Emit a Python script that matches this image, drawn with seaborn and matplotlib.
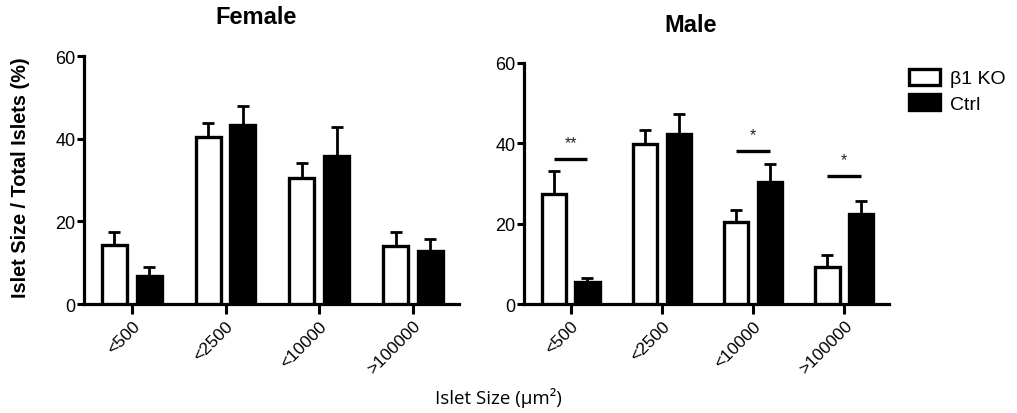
import numpy as np
import pandas as pd
import matplotlib
matplotlib.use("Agg")
import matplotlib.pyplot as plt
import seaborn as sns

sns.set_theme(style="ticks")
plt.rcParams["font.family"] = ["Liberation Sans", "DejaVu Sans"]
plt.rcParams["text.color"] = "black"
plt.rcParams["axes.labelcolor"] = "black"
plt.rcParams["xtick.color"] = "black"
plt.rcParams["ytick.color"] = "black"

# Islet size bins (µm²) and genotypes
size_bins = ["<500", "<2500", "<10000", ">100000"]
genotypes = ["β1 KO", "Ctrl"]

# Percent of total islets in each size bin (mean) and SEM
female_ko = [14.3, 40.5, 30.4, 14.1]
female_ko_sem = [3.2, 3.4, 3.7, 3.4]
female_ctrl = [6.7, 43.4, 35.9, 12.9]
female_ctrl_sem = [2.3, 4.4, 6.9, 2.8]

male_ko = [27.4, 39.8, 20.5, 9.3]
male_ko_sem = [5.8, 3.5, 3.0, 2.9]
male_ctrl = [5.4, 42.3, 30.4, 22.3]
male_ctrl_sem = [1.0, 5.1, 4.5, 3.3]

# Significance marks for the male panel: (bin index, bracket height, label)
male_sig_bins = [0, 2, 3]
male_sig_heights = [36.0, 38.1, 31.9]
male_sig_labels = ["**", "*", "*"]


def make_frame(ko, ctrl):
    return pd.DataFrame({
        "size": size_bins * 2,
        "genotype": [genotypes[0]] * 4 + [genotypes[1]] * 4,
        "pct": list(ko) + list(ctrl),
    })


palette = {"β1 KO": "white", "Ctrl": "black"}
W, H = 1017, 414
fig = plt.figure(figsize=(W / 100, H / 100), dpi=100)

ax_f = fig.add_axes([84 / W, 1 - 305 / H, (459 - 84) / W, (305 - 57) / H])
ax_m = fig.add_axes([524 / W, 1 - 305 / H, (889 - 524) / W, (305 - 64) / H])

panels = [
    (ax_f, female_ko, female_ko_sem, female_ctrl, female_ctrl_sem, "Female"),
    (ax_m, male_ko, male_ko_sem, male_ctrl, male_ctrl_sem, "Male"),
]

for ax, ko, ko_sem, ctrl, ctrl_sem, name in panels:
    df = make_frame(ko, ctrl)
    sns.barplot(data=df, x="size", y="pct", hue="genotype", order=size_bins,
                hue_order=genotypes, palette=palette, edgecolor="black",
                linewidth=2.4, width=0.74, gap=0.28, errorbar=None, ax=ax,
                legend=(name == "Male"), zorder=3)
    # upper-only SEM whiskers placed at each bar's centre
    for container, sems in zip(ax.containers, [ko_sem, ctrl_sem]):
        for patch, s in zip(container.patches, sems):
            cx = patch.get_x() + patch.get_width() / 2
            top = patch.get_height()
            ax.errorbar(cx, top, yerr=[[0], [s]], fmt="none", ecolor="black",
                        elinewidth=2.0, capsize=4.5, capthick=2.0, zorder=2)
    ax.set_ylim(0, 60)
    ax.set_xlim(-0.51, 3.49)
    ax.set_yticks([0, 20, 40, 60])
    ax.set_xlabel("")
    ax.set_ylabel("")
    for side in ["top", "right"]:
        ax.spines[side].set_visible(False)
    for side in ["left", "bottom"]:
        ax.spines[side].set_linewidth(2.3)
        ax.spines[side].set_color("black")
    ax.tick_params(axis="y", length=5, width=2.2, labelsize=13, pad=1,
                   colors="black")
    ax.tick_params(axis="x", length=7, width=2.2, labelsize=12.5, pad=3,
                   colors="black")
    for lab in ax.get_xticklabels():
        lab.set_rotation(45)
        lab.set_ha("right")
        lab.set_rotation_mode("anchor")
    ax.set_facecolor("white")

# significance brackets between bar centres
for i, h, lab in zip(male_sig_bins, male_sig_heights, male_sig_labels):
    left = ax_m.containers[0].patches[i]
    right = ax_m.containers[1].patches[i]
    x0 = left.get_x() + left.get_width() / 2
    x1 = right.get_x() + right.get_width() / 2
    ax_m.plot([x0, x1], [h, h], color="black", lw=2.4, solid_capstyle="butt")
    ax_m.text((x0 + x1) / 2, h + 2.2, lab, ha="center", va="bottom",
              fontsize=11.5, color="#222222")

# legend at the right of the male panel
handles, labels = ax_m.get_legend_handles_labels()
ax_m.get_legend().remove()
leg = fig.legend(handles, labels, loc="upper left",
                 bbox_to_anchor=(909 / W, 1 - 70 / H), frameon=False,
                 fontsize=14, handlelength=1.6, handleheight=0.85,
                 handletextpad=0.5, labelspacing=0.35, borderpad=0,
                 borderaxespad=0)
for hnd in leg.legend_handles:
    hnd.set_linewidth(2.4)
    hnd.set_edgecolor("black")

fig.text(256 / W, 1 - 17 / H, "Female", ha="center", va="center",
         fontsize=17, fontweight="bold")
fig.text(691 / W, 1 - 25 / H, "Male", ha="center", va="center",
         fontsize=17, fontweight="bold")
fig.text(21 / W, 1 - 178 / H, "Islet Size / Total Islets (%)", rotation=90,
         ha="center", va="center", fontsize=14.3, fontweight="bold")
fig.text(498 / W, 1 - 398 / H, "Islet Size (μm²)", ha="center", va="center",
         fontsize=13.5, family=["Open Sans", "DejaVu Sans"])

fig.savefig("out.png", dpi=100, facecolor="white")
